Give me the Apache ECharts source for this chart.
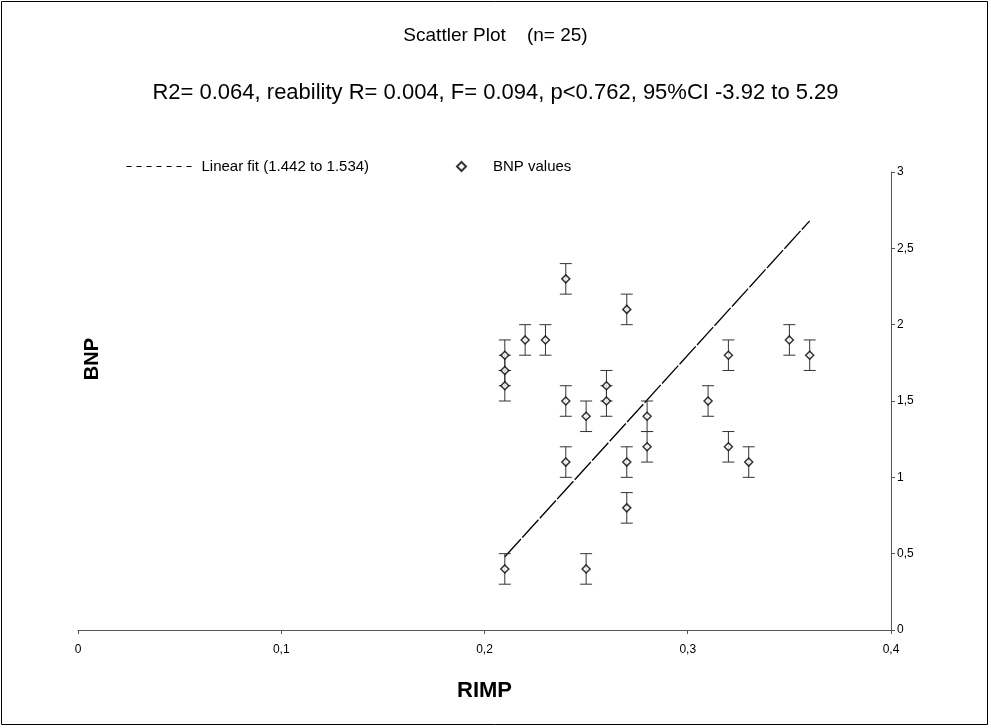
<!DOCTYPE html>
<html>
<head>
<meta charset="utf-8">
<script src="https://cdn.jsdelivr.net/npm/echarts@6/dist/echarts.min.js"></script>
<style>
  html, body { margin: 0; padding: 0; background: #fff; }
  #chart { width: 991px; height: 728px; }
</style>
</head>
<body>
<div id="chart"></div>
<script>
// RIMP (x) and BNP (y) values
const rimpValues = [0.21, 0.21, 0.21, 0.21, 0.22, 0.23, 0.24, 0.24, 0.24, 0.25, 0.25, 0.26, 0.26, 0.27, 0.27, 0.27, 0.28, 0.28, 0.31, 0.32, 0.32, 0.33, 0.35, 0.36];
const bnpValues = [1.8, 1.7, 1.6, 0.4, 1.9, 1.9, 2.3, 1.5, 1.1, 1.4, 0.4, 1.6, 1.5, 2.1, 1.1, 0.8, 1.4, 1.2, 1.5, 1.8, 1.2, 1.1, 1.9, 1.8];
const bnpErrors = [0.1, 0.1, 0.1, 0.1, 0.1, 0.1, 0.1, 0.1, 0.1, 0.1, 0.1, 0.1, 0.1, 0.1, 0.1, 0.1, 0.1, 0.1, 0.1, 0.1, 0.1, 0.1, 0.1, 0.1];
const fitX = [0.21, 0.36];
const fitY = [0.48, 2.68];

const titleText = 'Scattler Plot    (n= 25)';
const statsText = 'R2= 0.064, reability R= 0.004, F= 0.094, p<0.762, 95%CI -3.92 to 5.29';
const fitName = 'Linear fit (1.442 to 1.534)';
const pointName = 'BNP values';

const font = 'Liberation Sans, Arial, sans-serif';
const fmt = (v) => String(v).replace('.', ',');

const points = rimpValues.map((x, i) => [x, bnpValues[i]]);
const errorData = rimpValues.map((x, i) => [x, bnpValues[i] - bnpErrors[i], bnpValues[i] + bnpErrors[i]]);
const fitData = fitX.map((x, i) => [x, fitY[i]]);

const chart = echarts.init(document.getElementById('chart'), null, { renderer: 'canvas' });

const option = {
  animation: false,
  backgroundColor: '#fff',
  textStyle: { fontFamily: font },
  title: [
    { text: titleText, left: 'center', top: 21, textStyle: { fontSize: 19, fontWeight: 'normal', color: '#000', fontFamily: font } },
    { text: statsText, left: 'center', top: 77, textStyle: { fontSize: 22, fontWeight: 'normal', color: '#000', fontFamily: font } },
  ],
  legend: [
    {
      data: [fitName], left: 121, top: 154, itemWidth: 70, itemHeight: 10, itemGap: 10,
      itemStyle: { opacity: 0 },
      lineStyle: { type: [5, 5], width: 1, color: '#000' },
      textStyle: { fontSize: 15, color: '#000', fontFamily: font },
    },
    {
      data: [pointName], left: 451, top: 154, itemWidth: 9, itemHeight: 9,
      textStyle: { fontSize: 15, color: '#000', fontFamily: font, padding: [0, 0, 0, 22] },
    },
  ],
  grid: { left: 78, right: 100, top: 172, bottom: 98 },
  xAxis: {
    type: 'value', min: 0, max: 0.4, interval: 0.1,
    axisLine: { show: true, onZero: false, lineStyle: { color: '#555', width: 1 } },
    splitLine: { show: false },
    axisTick: { show: true, length: 4, lineStyle: { color: '#555' } },
    axisLabel: { formatter: fmt, fontSize: 12, color: '#000', margin: 14 },
    name: 'RIMP', nameLocation: 'middle', nameGap: 50,
    nameTextStyle: { fontSize: 22, fontWeight: 'bold', color: '#000' },
  },
  yAxis: {
    type: 'value', min: 0, max: 3, interval: 0.5, position: 'right',
    axisLine: { show: true, onZero: false, lineStyle: { color: '#555', width: 1 } },
    splitLine: { show: false },
    axisTick: { show: true, length: 4, lineStyle: { color: '#555' } },
    axisLabel: { formatter: fmt, fontSize: 12, color: '#000', margin: 6 },
  },
  graphic: [
    { type: 'rect', shape: { x: 1.5, y: 1.5, width: 986, height: 723 }, style: { fill: 'none', stroke: '#000', lineWidth: 1 }, silent: true },
    { type: 'text', left: 82, top: 338, rotation: Math.PI / 2, style: { text: 'BNP', font: 'bold 20px ' + font, fill: '#000' } },
  ],
  series: [
    {
      name: fitName, type: 'line', data: fitData, symbol: 'none',
      lineStyle: { color: '#000', width: 1.3, type: [24, 2] }, itemStyle: { color: '#000' }, z: 3,
    },
    {
      type: 'custom', data: errorData, z: 4,
      renderItem: (params, api) => {
        const low = api.coord([api.value(0), api.value(1)]);
        const high = api.coord([api.value(0), api.value(2)]);
        const hw = 6;
        const style = { stroke: '#333', lineWidth: 1 };
        return {
          type: 'group',
          children: [
            { type: 'line', shape: { x1: low[0], y1: low[1], x2: high[0], y2: high[1] }, style },
            { type: 'line', shape: { x1: low[0] - hw, y1: low[1], x2: low[0] + hw, y2: low[1] }, style },
            { type: 'line', shape: { x1: high[0] - hw, y1: high[1], x2: high[0] + hw, y2: high[1] }, style },
          ],
        };
      },
    },
    {
      name: pointName, type: 'scatter', data: points, symbol: 'diamond', symbolSize: 8, z: 5,
      itemStyle: { color: '#fff', borderColor: '#000', borderWidth: 1.5 },
    },
  ],
};

chart.setOption(option);
</script>
</body>
</html>
